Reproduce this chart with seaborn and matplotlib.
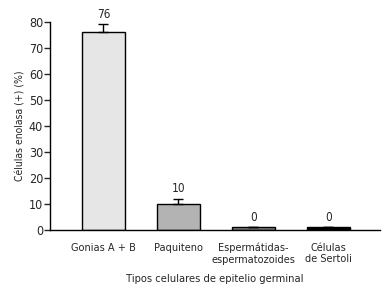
import matplotlib
matplotlib.use("Agg")
import matplotlib.pyplot as plt
import seaborn as sb
import pandas as pd

categories = ["Gonias A + B", "Paquiteno", "Espermátidas-\nespermatozoides", "Células\nde Sertoli"]
values = [76, 10, 1, 1]
errors = [3, 2, 0, 0]
value_labels = ["76", "10", "0", "0"]
colors = ["#e6e6e6", "#b3b3b3", "#808080", "#000000"]

sb.set_style("ticks")
plt.rcParams["font.family"] = ["DejaVu Sans"]
plt.rcParams["font.stretch"] = "condensed"

df = pd.DataFrame({"tipo": categories, "valor": values})

fig = plt.figure(figsize=(3.91, 2.89), dpi=100)
ax = fig.add_axes([0.128, 0.204, 0.844, 0.721])

sb.barplot(data=df, x="tipo", y="valor", hue="tipo", palette=colors,
	width=0.57, edgecolor="black", linewidth=1, legend=False, ax=ax)

xs = range(len(categories))
ax.errorbar(xs, values, yerr=[[0] * len(errors), errors], fmt="none",
	ecolor="black", elinewidth=1, capsize=3.6, capthick=1)

for x, v, e, lab in zip(xs, values, errors, value_labels):
	ax.text(x, v + e + 1.3, lab, ha="center", va="bottom", fontsize=8.5)

ax.set_xlim(-0.713, 3.69)
ax.set_ylim(0, 80)
ax.set_yticks(range(0, 81, 10))
ax.tick_params(axis="y", labelsize=9, length=4, width=1, pad=1)
ax.tick_params(axis="x", labelsize=7.8, length=0, pad=9)
ax.set_ylabel("Células enolasa (+) (%)", fontsize=7.5, labelpad=2)
ax.set_xlabel("Tipos celulares de epitelio germinal", fontsize=8, labelpad=7)
sb.despine(ax=ax)
for s in ["left", "bottom"]:
	ax.spines[s].set_linewidth(1)
	ax.spines[s].set_color("black")

plt.savefig("out.png", dpi=100)
